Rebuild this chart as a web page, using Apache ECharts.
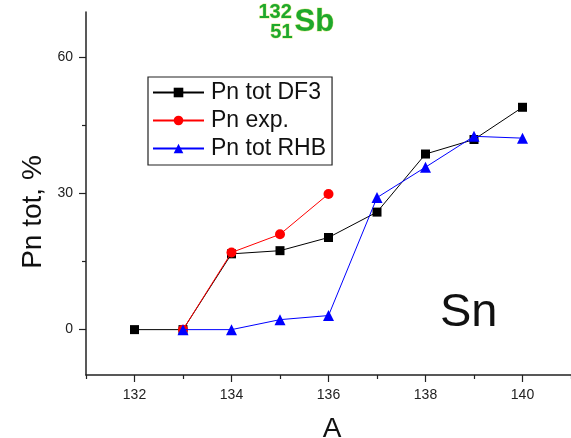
<!DOCTYPE html>
<html>
<head>
<meta charset="utf-8">
<script src="https://cdn.jsdelivr.net/npm/echarts@6/dist/echarts.min.js"></script>
<style>html,body{margin:0;padding:0;background:#fff;}#c{width:571px;height:438px;}</style>
</head>
<body>
<div id="c"></div>
<script>
const massNumbers = [132, 133, 134, 135, 136, 137, 138, 139, 140];
const pnDF3 = [0, 0, 16.7, 17.4, 20.3, 25.9, 38.7, 41.9, 49.0];
const pnExpA = [133, 134, 135, 136];
const pnExp = [0, 17.0, 21.0, 29.9];
const pnRHBA = [133, 134, 135, 136, 137, 138, 139, 140];
const pnRHB = [0, 0, 2.2, 3.1, 29.1, 35.8, 42.6, 42.2];
const xMajorTicks = [132, 134, 136, 138, 140];
const xMinorTicks = [131, 133, 135, 137, 139, 141];
const yMajorTicks = [0, 30, 60];
const yMinorTicks = [15, 45];
const seriesNames = ['Pn tot DF3', 'Pn exp.', 'Pn tot RHB'];

const pair = (xs, ys) => xs.map((x, i) => [x, ys[i]]);
const FONT = 'Arial, "Liberation Sans", sans-serif';
const axisLineStyle = { color: '#222', width: 1.5 };

const chart = echarts.init(document.getElementById('c'), null, { renderer: 'canvas' });
chart.setOption({
  animation: false,
  backgroundColor: '#fff',
  grid: { left: 86, right: -6, top: 12, bottom: 63, containLabel: false },
  xAxis: [{
    type: 'value', min: 131, max: 141, position: 'bottom',
    axisLine: { show: true, onZero: false, lineStyle: axisLineStyle },
    axisTick: { show: true, inside: false, length: 7, lineStyle: { color: '#222', width: 1.2 }, customValues: xMajorTicks },
    axisLabel: { show: true, customValues: xMajorTicks, fontSize: 14, color: '#222', fontFamily: FONT, margin: 13 },
    splitLine: { show: false }
  }, {
    type: 'value', min: 131, max: 141, position: 'bottom',
    axisLine: { show: false, onZero: false },
    axisTick: { show: true, inside: false, length: 4, lineStyle: { color: '#222', width: 1.2 }, customValues: xMinorTicks },
    axisLabel: { show: false },
    splitLine: { show: false }
  }],
  yAxis: [{
    type: 'value', min: -10, max: 70, position: 'left',
    axisLine: { show: true, onZero: false, lineStyle: axisLineStyle },
    axisTick: { show: true, inside: false, length: 7, lineStyle: { color: '#222', width: 1.2 }, customValues: yMajorTicks },
    axisLabel: { show: true, customValues: yMajorTicks, fontSize: 14, color: '#222', fontFamily: FONT, margin: 13 },
    splitLine: { show: false }
  }, {
    type: 'value', min: -10, max: 70, position: 'left',
    axisLine: { show: false, onZero: false },
    axisTick: { show: true, inside: false, length: 4, lineStyle: { color: '#222', width: 1.2 }, customValues: yMinorTicks },
    axisLabel: { show: false },
    splitLine: { show: false }
  }],
  legend: {
    orient: 'vertical', left: 148, top: 77,
    data: seriesNames,
    borderColor: '#222', borderWidth: 1.2, borderRadius: 0,
    padding: [4, 6, 5, 4],
    itemWidth: 51, itemHeight: 12, itemGap: 5,
    textStyle: { fontSize: 23, color: '#111', fontFamily: FONT, padding: [0, 0, 0, 2] },
    backgroundColor: '#fff'
  },
  series: [{
    name: seriesNames[0], type: 'line', xAxisIndex: 0, yAxisIndex: 0,
    data: pair(massNumbers, pnDF3),
    symbol: 'rect', symbolSize: 9,
    itemStyle: { color: '#000' }, lineStyle: { color: '#000', width: 1 }, z: 2
  }, {
    name: seriesNames[1], type: 'line', xAxisIndex: 0, yAxisIndex: 0,
    data: pair(pnExpA, pnExp),
    symbol: 'circle', symbolSize: 10,
    itemStyle: { color: '#ff0000' }, lineStyle: { color: '#ff0000', width: 1 }, z: 3
  }, {
    name: seriesNames[2], type: 'line', xAxisIndex: 0, yAxisIndex: 0,
    data: pair(pnRHBA, pnRHB),
    symbol: 'triangle', symbolSize: 11,
    itemStyle: { color: '#0000ff' }, lineStyle: { color: '#0000ff', width: 1 }, z: 4
  }],
  graphic: [
    { type: 'text', left: 258, top: 2, style: { text: '132', font: 'bold 20px ' + FONT, fill: '#1ea82c', stroke: 'rgba(210,220,40,0.5)', lineWidth: 1 } },
    { type: 'text', right: 571 - 293, top: 22, style: { text: '51', font: 'bold 20px ' + FONT, fill: '#1ea82c', stroke: 'rgba(210,220,40,0.5)', lineWidth: 1 } },
    { type: 'text', left: 294, top: 6, style: { text: 'Sb', font: 'bold 31px ' + FONT, fill: '#1ea82c', stroke: 'rgba(210,220,40,0.5)', lineWidth: 1 } },
    { type: 'text', left: 440, top: 290, style: { text: 'Sn', font: '47px ' + FONT, fill: '#111' } },
    { type: 'text', x: 33, y: 212, rotation: Math.PI / 2, style: { text: 'Pn tot, %', font: '28px ' + FONT, fill: '#111', align: 'center', verticalAlign: 'middle' } },
    { type: 'text', x: 332, y: 415, style: { text: 'A', font: '28px ' + FONT, fill: '#111', align: 'center', verticalAlign: 'top' } }
  ]
});
</script>
</body>
</html>
